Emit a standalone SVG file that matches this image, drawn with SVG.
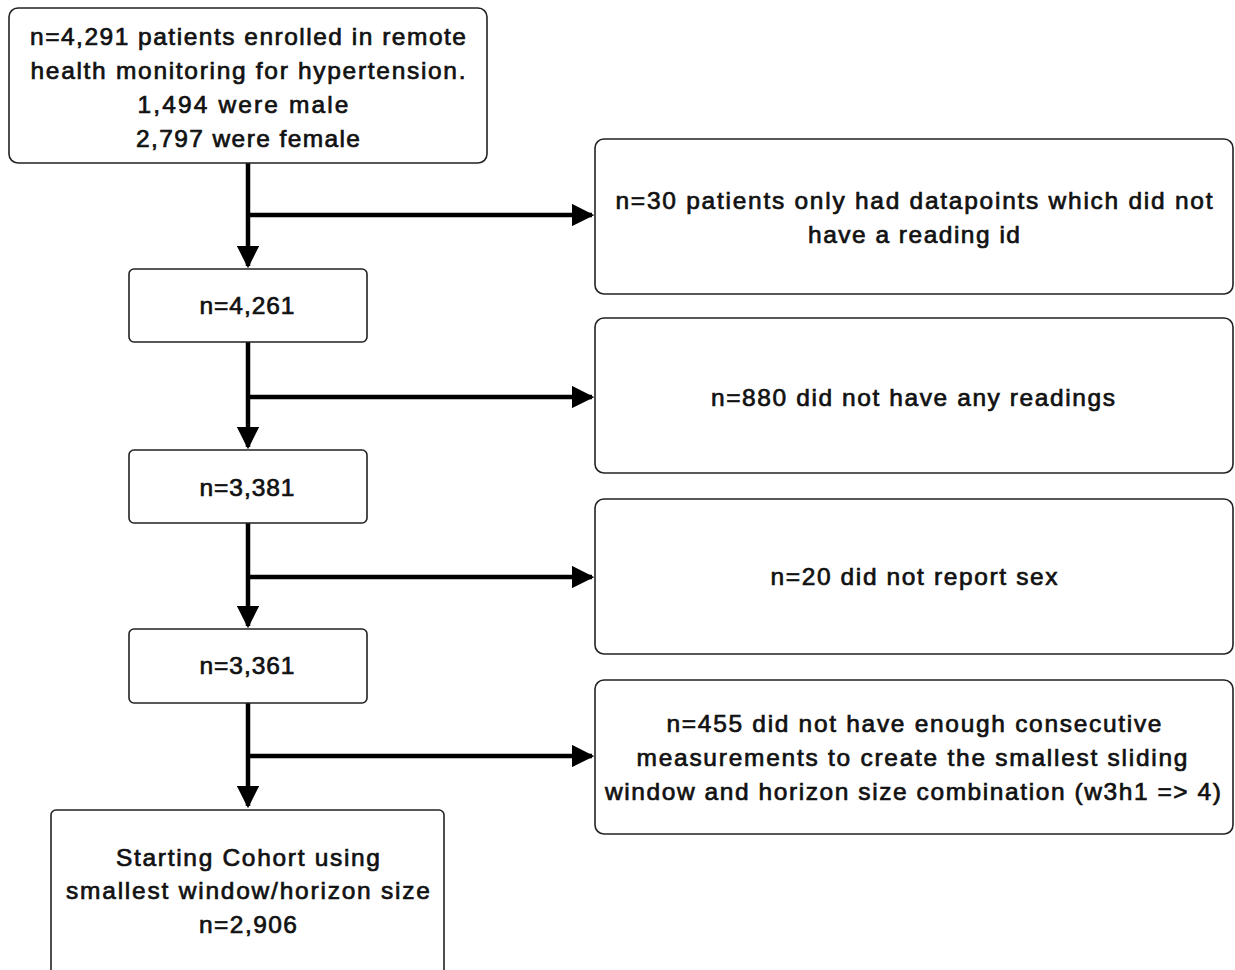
<svg xmlns="http://www.w3.org/2000/svg" width="1235" height="970" viewBox="0 0 1235 970">
<style>
.box{fill:#fff;stroke:#222;stroke-width:1.6}
.t{font-family:"Liberation Sans",Arial,sans-serif;font-size:24.5px;fill:#111;stroke:#111;stroke-width:0.7;text-anchor:middle}
.c{fill:none;stroke:#000;stroke-width:4.5}
</style>
<defs>
<marker id="ah" viewBox="0 0 10 10" refX="9" refY="5" markerWidth="5" markerHeight="5" markerUnits="strokeWidth" orient="auto">
<path d="M0,0 L10,5 L0,10 z" fill="#000"/>
</marker>
</defs>
<rect width="1235" height="970" fill="#fff"/>
<g id="connectors">
<path class="c" d="M248,163 V266" marker-end="url(#ah)"/>
<path class="c" d="M248,215 H592" marker-end="url(#ah)"/>
<path class="c" d="M248,342 V447" marker-end="url(#ah)"/>
<path class="c" d="M248,397 H592" marker-end="url(#ah)"/>
<path class="c" d="M248,523 V626" marker-end="url(#ah)"/>
<path class="c" d="M248,577 H592" marker-end="url(#ah)"/>
<path class="c" d="M248,703 V806" marker-end="url(#ah)"/>
<path class="c" d="M248,756 H592" marker-end="url(#ah)"/>
</g>
<g id="n1">
<rect class="box" x="9" y="8" width="478" height="155" rx="9"/>
<text class="t" x="248" y="45" textLength="436" lengthAdjust="spacing">n=4,291 patients enrolled in remote</text>
<text class="t" x="248" y="79" textLength="435" lengthAdjust="spacing">health monitoring for hypertension.</text>
<text class="t" x="243" y="113" textLength="211" lengthAdjust="spacing">1,494 were male</text>
<text class="t" x="248" y="147" textLength="224" lengthAdjust="spacing">2,797 were female</text>
</g>
<g id="e1">
<rect class="box" x="595" y="139" width="638" height="155" rx="9"/>
<text class="t" x="914" y="209" textLength="597" lengthAdjust="spacing">n=30 patients only had datapoints which did not</text>
<text class="t" x="914" y="243" textLength="212" lengthAdjust="spacing">have a reading id</text>
</g>
<g id="n2">
<rect class="box" x="129" y="269" width="238" height="73" rx="5"/>
<text class="t" x="247" y="314" textLength="95" lengthAdjust="spacing">n=4,261</text>
</g>
<g id="e2">
<rect class="box" x="595" y="318" width="638" height="155" rx="9"/>
<text class="t" x="913" y="406" textLength="404" lengthAdjust="spacing">n=880 did not have any readings</text>
</g>
<g id="n3">
<rect class="box" x="129" y="450" width="238" height="73" rx="5"/>
<text class="t" x="247" y="496" textLength="95" lengthAdjust="spacing">n=3,381</text>
</g>
<g id="e3">
<rect class="box" x="595" y="499" width="638" height="155" rx="9"/>
<text class="t" x="914" y="585" textLength="287" lengthAdjust="spacing">n=20 did not report sex</text>
</g>
<g id="n4">
<rect class="box" x="129" y="629" width="238" height="74" rx="5"/>
<text class="t" x="247" y="674" textLength="95" lengthAdjust="spacing">n=3,361</text>
</g>
<g id="e4">
<rect class="box" x="595" y="680" width="638" height="154" rx="9"/>
<text class="t" x="914" y="732" textLength="495" lengthAdjust="spacing">n=455 did not have enough consecutive</text>
<text class="t" x="912" y="766" textLength="551" lengthAdjust="spacing">measurements to create the smallest sliding</text>
<text class="t" x="913" y="800" textLength="616" lengthAdjust="spacing">window and horizon size combination (w3h1 =&gt; 4)</text>
</g>
<g id="n5">
<rect class="box" x="51" y="810" width="393" height="175" rx="5"/>
<text class="t" x="248" y="866" textLength="264" lengthAdjust="spacing">Starting Cohort using</text>
<text class="t" x="248" y="899" textLength="364" lengthAdjust="spacing">smallest window/horizon size</text>
<text class="t" x="248" y="933" textLength="98" lengthAdjust="spacing">n=2,906</text>
</g>
</svg>
